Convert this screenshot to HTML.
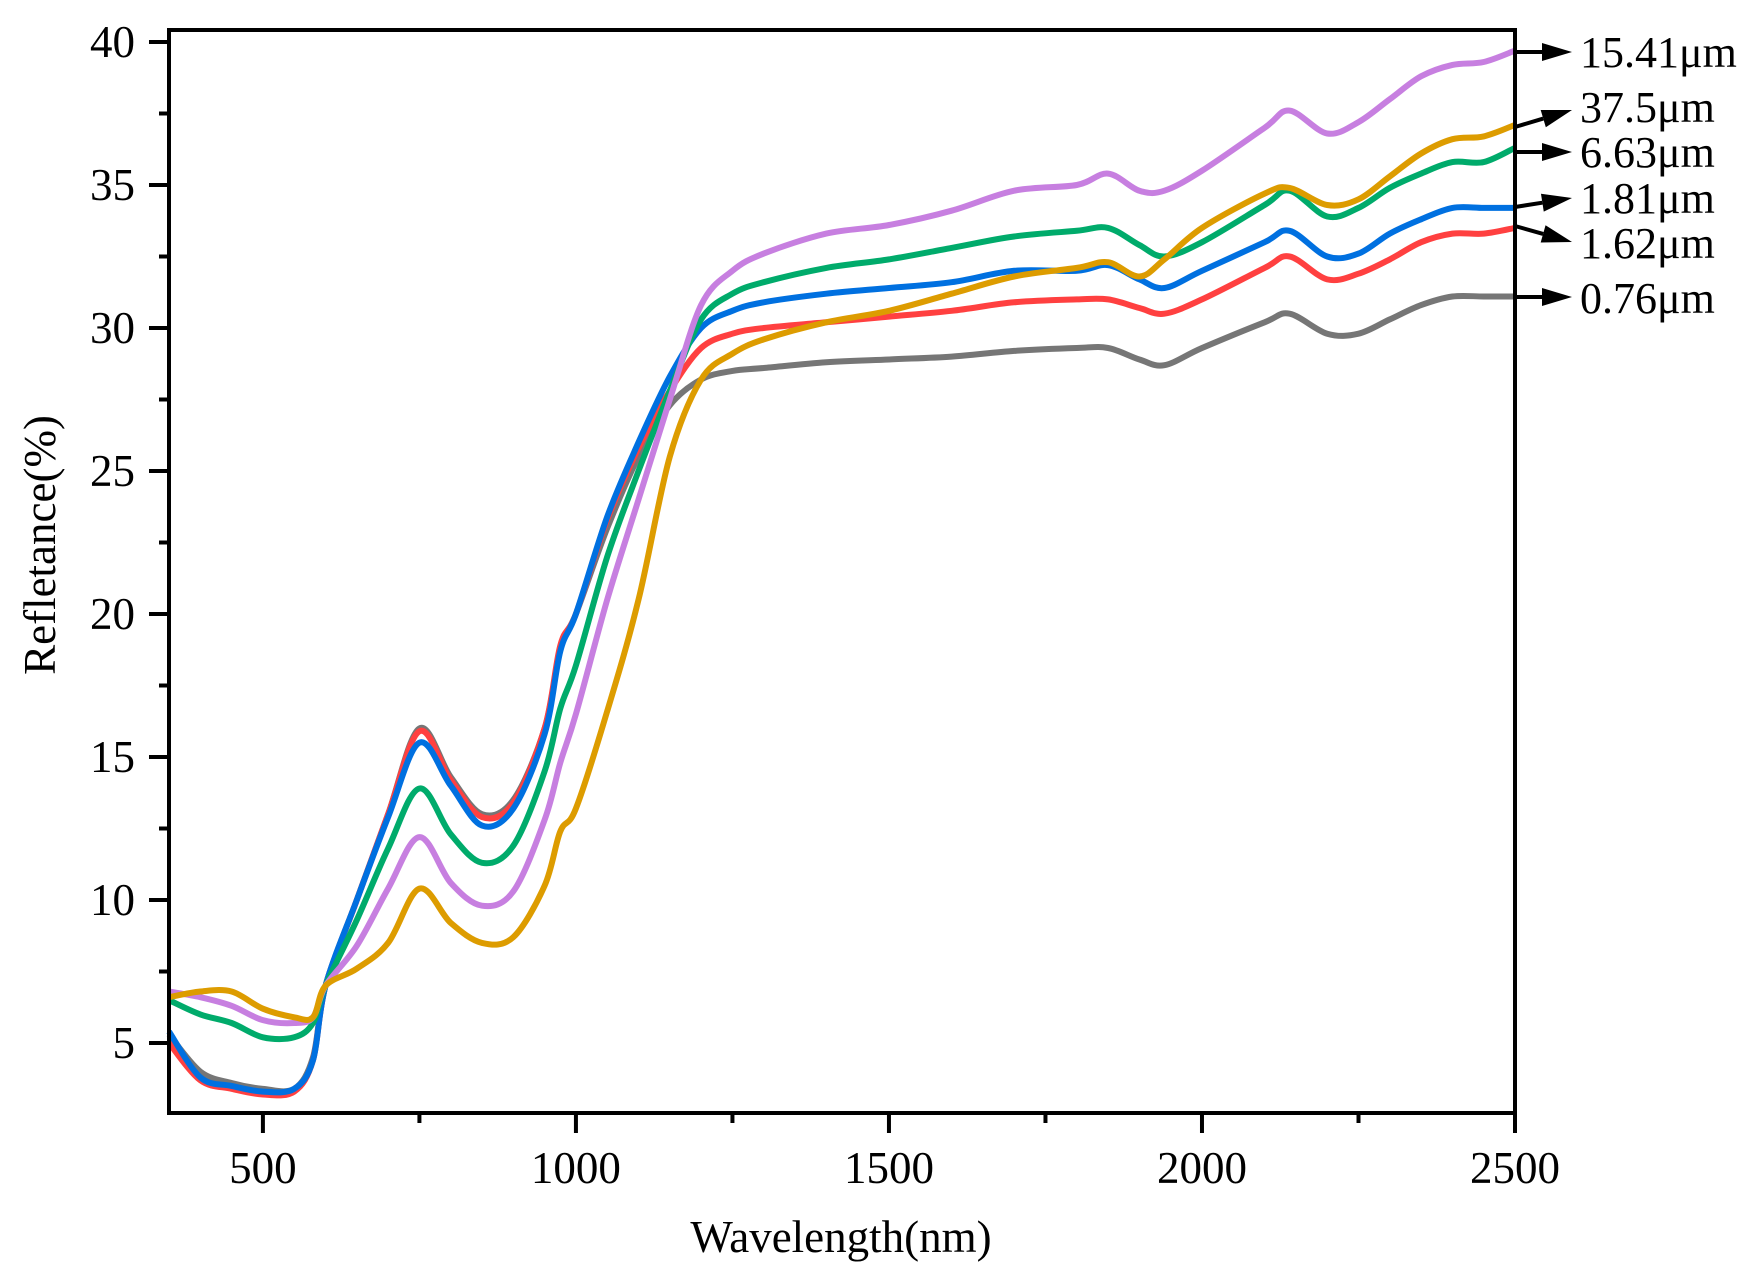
<!DOCTYPE html>
<html><head><meta charset="utf-8"><style>
html,body{margin:0;padding:0;background:#fff;}
svg{display:block;font-family:"Liberation Serif",serif;}
</style></head><body>
<svg id="chart" width="1760" height="1284" viewBox="0 0 1760 1284" xmlns="http://www.w3.org/2000/svg">
<g id="series"></g>
<g id="axes"></g>
<g id="legend"></g>
</svg>
<script>
const wavelengths=[350,400,450,500,550,580,600,650,700,750,800,850,900,950,975,1000,1050,1100,1150,1200,1250,1300,1400,1500,1600,1700,1800,1850,1900,1940,2000,2100,2140,2200,2250,2300,2350,2400,2450,2500];
const gray076=[5.3,4.0,3.6,3.4,3.4,4.5,7,10,13,16,14.3,13,13.5,16,18.8,20,23,25.5,27.3,28.2,28.5,28.6,28.8,28.9,29.0,29.2,29.3,29.3,28.9,28.7,29.3,30.2,30.5,29.8,29.8,30.3,30.8,31.1,31.1,31.1];
const red162=[5.0,3.7,3.4,3.2,3.3,4.4,7,10,13,15.9,14.2,12.9,13.4,16,18.9,20,23.3,25.8,27.8,29.3,29.8,30.0,30.2,30.4,30.6,30.9,31.0,31.0,30.7,30.5,31.0,32.1,32.5,31.7,31.9,32.4,33.0,33.3,33.3,33.5];
const blue181=[5.4,3.8,3.5,3.3,3.4,4.4,7,10,12.9,15.5,14,12.6,13.2,15.8,18.7,20,23.4,26,28.3,30.0,30.6,30.9,31.2,31.4,31.6,32.0,32.0,32.2,31.7,31.4,32.0,33.0,33.4,32.5,32.6,33.3,33.8,34.2,34.2,34.2];
const green663=[6.5,6.0,5.7,5.2,5.2,5.7,7,9.3,11.8,13.9,12.3,11.3,11.9,14.5,16.7,18.2,22,25,27.8,30.3,31.2,31.6,32.1,32.4,32.8,33.2,33.4,33.5,32.9,32.5,33.0,34.3,34.8,33.9,34.2,34.9,35.4,35.8,35.8,36.3];
const purple1541=[6.8,6.6,6.3,5.8,5.7,5.9,7,8.4,10.4,12.2,10.6,9.8,10.3,12.8,14.8,16.5,20.5,24,27.5,30.8,32,32.6,33.3,33.6,34.1,34.8,35.0,35.4,34.8,34.8,35.5,37.0,37.6,36.8,37.2,38.0,38.8,39.2,39.3,39.7];
const orange375=[6.6,6.8,6.8,6.2,5.9,5.9,7,7.6,8.5,10.4,9.2,8.5,8.7,10.5,12.4,13.2,16.6,20.5,25.5,28.2,29.1,29.6,30.2,30.6,31.2,31.8,32.1,32.3,31.8,32.4,33.5,34.7,34.9,34.3,34.5,35.3,36.1,36.6,36.7,37.1];
const xTicks=[500,1000,1500,2000,2500];
const yTicks=[5,10,15,20,25,30,35,40];
const seriesLabels=["0.76μm","1.62μm","1.81μm","6.63μm","15.41μm","37.5μm"];

const NS="http://www.w3.org/2000/svg";
const L=169,R=1515,T=30,B=1113;
const xMin=350,xMax=2500;
const x=w=>L+(w-xMin)/(xMax-xMin)*(R-L);
const y=v=>42+(40-v)*28.6;
function mk(tag,attrs,parent){const e=document.createElementNS(NS,tag);for(const k in attrs)e.setAttribute(k,attrs[k]);parent.appendChild(e);return e;}
function smooth(xs,ys){
  const p=xs.map((w,i)=>[x(w),y(ys[i])]);
  let d="M"+p[0][0].toFixed(1)+","+p[0][1].toFixed(1);
  for(let i=0;i<p.length-1;i++){
    const p0=p[i-1]||p[i],p1=p[i],p2=p[i+1],p3=p[i+2]||p2;
    const c1=[p1[0]+(p2[0]-p0[0])/6,p1[1]+(p2[1]-p0[1])/6];
    const c2=[p2[0]-(p3[0]-p1[0])/6,p2[1]-(p3[1]-p1[1])/6];
    d+=` C${c1[0].toFixed(1)},${c1[1].toFixed(1)} ${c2[0].toFixed(1)},${c2[1].toFixed(1)} ${p2[0].toFixed(1)},${p2[1].toFixed(1)}`;
  }
  return d;
}
const sg=document.getElementById('series');
const series=[[gray076,"#767676","series-0-76um"],[red162,"#ff4040","series-1-62um"],[blue181,"#0070e0","series-1-81um"],[green663,"#00ab6b","series-6-63um"],[purple1541,"#c77fe0","series-15-41um"],[orange375,"#dd9c00","series-37-5um"]];
series.forEach(s=>{
  const p=mk('path',{d:smooth(wavelengths,s[0]),fill:"none",stroke:s[1],"stroke-width":6,"stroke-linejoin":"round"},sg);
  
  
});
const ax=document.getElementById('axes');
const frame=mk('rect',{x:L,y:T,width:R-L,height:B-T,fill:"none",stroke:"#000","stroke-width":4},ax);


yTicks.forEach(v=>{
  const t=mk('line',{x1:L-20,x2:L,y1:y(v),y2:y(v),stroke:"#000","stroke-width":4},ax);
  
  
  if(v+2.5<40.5){
    const m=mk('line',{x1:L-10,x2:L,y1:y(v+2.5),y2:y(v+2.5),stroke:"#000","stroke-width":4},ax);
    
    
  }
  const lb=mk('text',{x:L-34,y:y(v)+15,"text-anchor":"end","font-size":45},ax);
  lb.textContent=v;
  
  
});
xTicks.forEach(v=>{
  const t=mk('line',{x1:x(v),x2:x(v),y1:B,y2:B+20,stroke:"#000","stroke-width":4},ax);
  
  
  if(v-250>xMin){
    const m=mk('line',{x1:x(v-250),x2:x(v-250),y1:B,y2:B+10,stroke:"#000","stroke-width":4},ax);
    
    
  }
  const lb=mk('text',{x:x(v),y:1183,"text-anchor":"middle","font-size":45},ax);
  lb.textContent=v;
  
  
});
const xt=mk('text',{x:841,y:1252,"text-anchor":"middle","font-size":45},ax);
xt.textContent="Wavelength(nm)";


const yt=mk('text',{x:0,y:0,"text-anchor":"middle","font-size":45,transform:"translate(55,545) rotate(-90)"},ax);
yt.textContent="Refletance(%)";



const lg=document.getElementById('legend');
const arrows=[[52,52,67,"15.41μm"],[127,110,122,"37.5μm"],[152,152,167,"6.63μm"],[207,198,213,"1.81μm"],[226,242,258,"1.62μm"],[297,297,313,"0.76μm"]];
arrows.forEach(a=>{
  const x1=R,y1=a[0],x2=1572,y2=a[1];
  const ang=Math.atan2(y2-y1,x2-x1);
  const bx=x2-30*Math.cos(ang),by=y2-30*Math.sin(ang);
  const ln=mk('line',{x1:x1,y1:y1,x2:bx,y2:by,stroke:"#000","stroke-width":4},lg);
  
  
  const px=-Math.sin(ang)*9,py=Math.cos(ang)*9;
  const hd=mk('polygon',{points:`${x2},${y2} ${bx+px},${by+py} ${bx-px},${by-py}`,fill:"#000"},lg);
  
  
  const tx=mk('text',{x:1580,y:a[2],"font-size":44},lg);
  tx.textContent=a[3];
  
  
});
</script>
</body></html>
